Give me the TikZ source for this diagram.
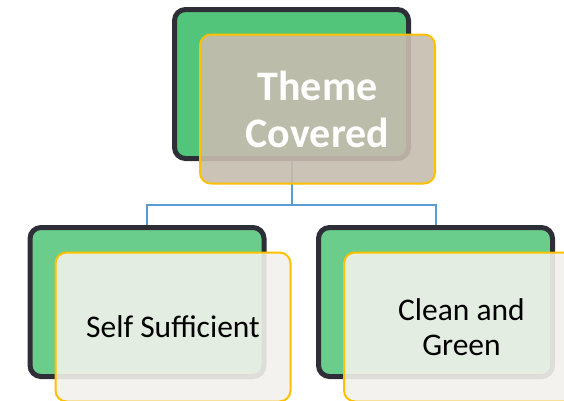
\documentclass[tikz,border=0pt]{standalone}
\usepackage{fontspec}
\setmainfont{Carlito}
\usepackage{xcolor}

\definecolor{darkedge}{HTML}{2E2E39}
\definecolor{greentop}{HTML}{53C57A}
\definecolor{greenlow}{HTML}{6BCD8B}
\definecolor{gold}{HTML}{FFC000}
\definecolor{taupe}{HTML}{C7BCAF}
\definecolor{paper}{HTML}{F2F1EC}
\definecolor{linkblue}{HTML}{5B9BD5}

\begin{document}
\begin{tikzpicture}[x=1pt, y=-1pt,
    backbox/.style={draw=darkedge, line width=5pt, rounded corners=11pt,
        minimum width=234pt, minimum height=149pt, inner sep=0pt},
    frontbox/.style={draw=gold, line width=2pt, rounded corners=11pt,
        minimum width=235pt, minimum height=149pt, inner sep=0pt,
        fill opacity=0.9, text opacity=1, align=center,
        xshift=26pt, yshift=-25pt},
    lowtext/.style={fill=paper, text=black, font=\fontsize{31.5}{35}\selectfont},
    link/.style={draw=linkblue, line width=2pt}]
        \useasboundingbox (0,0) rectangle (564,400);
        \clip (0,0) rectangle (564,400);

        % Back boxes
        \node[backbox, fill=greentop] (bt) at (291.5, 84) {};
        \node[backbox, fill=greenlow] (bl) at (147, 302) {};
        \node[backbox, fill=greenlow] (br) at (435.5, 302) {};

        % Connectors from the top box down to the two lower ones
        \draw[link] (bt.south) -- ++(0,44) -| (bl.north);
        \draw[link] (bt.south) -- ++(0,44) -| (br.north);

        % Front boxes with the texts
        \node[frontbox, fill=taupe, text=white,
              font=\fontsize{42}{47}\selectfont\bfseries] (ft) at (bt) {Theme\\Covered};
        \node[frontbox, lowtext] (fl) at (bl) {Self Sufficient};
        \node[frontbox, lowtext] (fr) at (br) {Clean and\\Green};
    \end{tikzpicture}
\end{document}
